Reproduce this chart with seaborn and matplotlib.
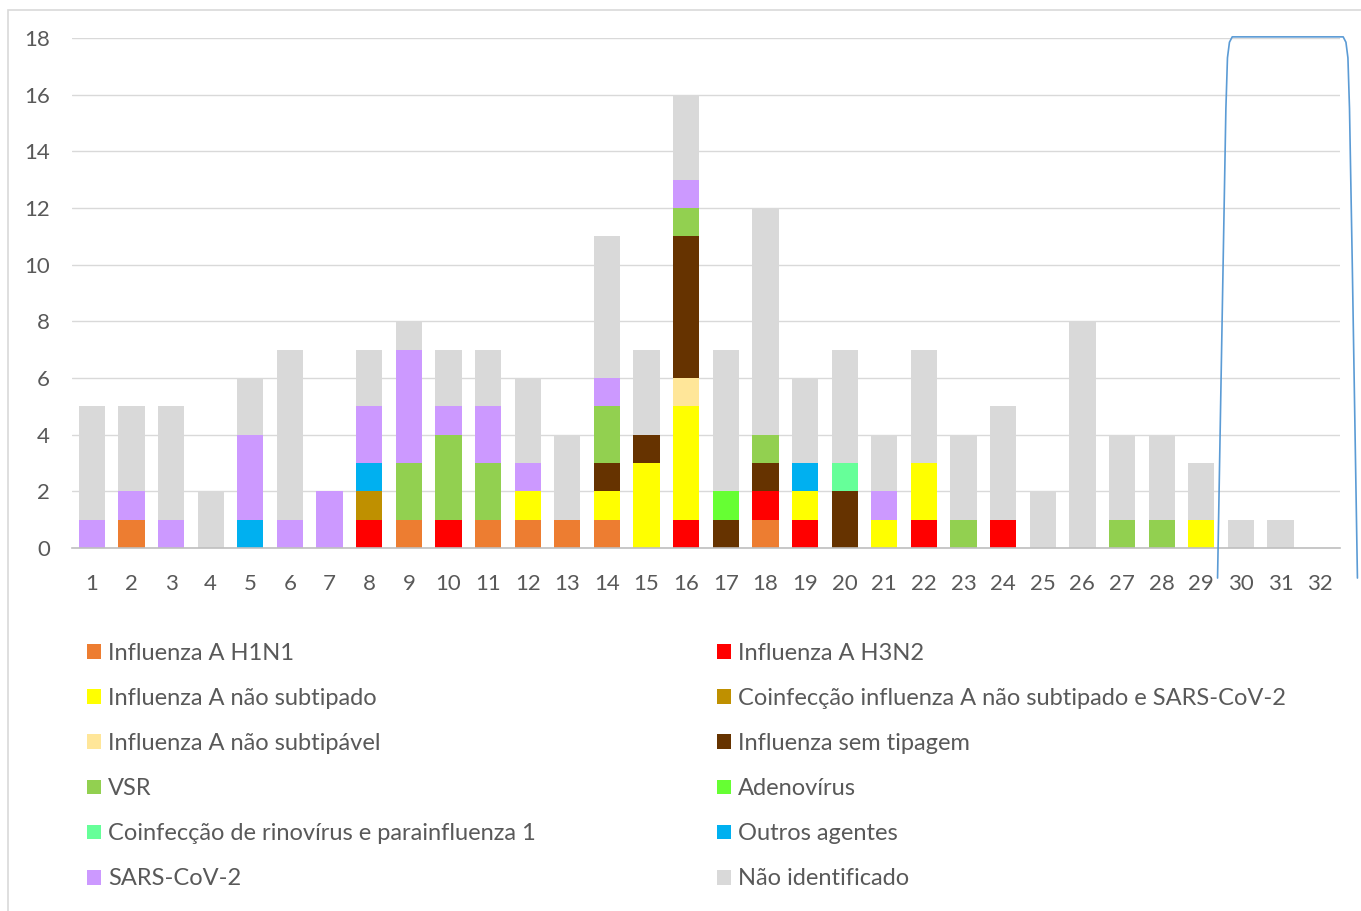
import numpy as np
import pandas as pd
import matplotlib
matplotlib.use("Agg")
import matplotlib.pyplot as plt
from matplotlib.patches import Patch, Rectangle
import seaborn as sns

weeks = list(range(1, 33))

agents = [
    "Influenza A H1N1",
    "Influenza A H3N2",
    "Influenza A não subtipado",
    "Coinfecção influenza A não subtipado e SARS-CoV-2",
    "Influenza A não subtipável",
    "Influenza sem tipagem",
    "VSR",
    "Adenovírus",
    "Coinfecção de rinovírus e parainfluenza 1",
    "Outros agentes",
    "SARS-CoV-2",
    "Não identificado",
]

colors = ["#ED7D31", "#FF0000", "#FFFF00", "#BF9000", "#FFE699", "#663300",
          "#92D050", "#66FF33", "#66FF99", "#00B0F0", "#CC99FF", "#D9D9D9"]

# counts per week (1..32)
h1n1 =        [0,1,0,0,0,0,0,0,1,0,1,1,1,1,0,0,0,1,0,0,0,0,0,0,0,0,0,0,0,0,0,0]
h3n2 =        [0,0,0,0,0,0,0,1,0,1,0,0,0,0,0,1,0,1,1,0,0,1,0,1,0,0,0,0,0,0,0,0]
nao_subtip =  [0,0,0,0,0,0,0,0,0,0,0,1,0,1,3,4,0,0,1,0,1,2,0,0,0,0,0,0,1,0,0,0]
coinf_sars =  [0,0,0,0,0,0,0,1,0,0,0,0,0,0,0,0,0,0,0,0,0,0,0,0,0,0,0,0,0,0,0,0]
nao_subtipav =[0,0,0,0,0,0,0,0,0,0,0,0,0,0,0,1,0,0,0,0,0,0,0,0,0,0,0,0,0,0,0,0]
sem_tipagem = [0,0,0,0,0,0,0,0,0,0,0,0,0,1,1,5,1,1,0,2,0,0,0,0,0,0,0,0,0,0,0,0]
vsr =         [0,0,0,0,0,0,0,0,2,3,2,0,0,2,0,1,0,1,0,0,0,0,1,0,0,0,1,1,0,0,0,0]
adeno =       [0,0,0,0,0,0,0,0,0,0,0,0,0,0,0,0,1,0,0,0,0,0,0,0,0,0,0,0,0,0,0,0]
coinf_rino =  [0,0,0,0,0,0,0,0,0,0,0,0,0,0,0,0,0,0,0,1,0,0,0,0,0,0,0,0,0,0,0,0]
outros =      [0,0,0,0,1,0,0,1,0,0,0,0,0,0,0,0,0,0,1,0,0,0,0,0,0,0,0,0,0,0,0,0]
sars =        [1,1,1,0,3,1,2,2,4,1,2,1,0,1,0,1,0,0,0,0,1,0,0,0,0,0,0,0,0,0,0,0]
nao_ident =   [4,3,4,2,2,6,0,2,1,2,2,3,3,5,3,3,5,8,3,4,2,4,3,4,2,8,3,3,2,1,1,0]

series = [h1n1, h3n2, nao_subtip, coinf_sars, nao_subtipav, sem_tipagem,
          vsr, adeno, coinf_rino, outros, sars, nao_ident]

# blue bracket shape drawn over the right part of the chart
bracket_x = [29.41, 29.55, 29.62, 29.66, 29.71, 29.78, 32.58, 32.65, 32.70, 32.74, 32.81, 32.94]
bracket_y = [-1.06, 10.0, 15.5, 17.3, 17.85, 18.04, 18.04, 17.85, 17.3, 15.5, 10.0, -1.06]

rows = []
for name, vals in zip(agents, series):
    for w, v in zip(weeks, vals):
        rows.append({"week": w, "agent": name, "n": v})
df = pd.DataFrame(rows)

sns.set_theme(style="white")
plt.rcParams["font.family"] = ["Lato", "DejaVu Sans"]
text_color = "#595959"

fig = plt.figure(figsize=(13.61, 9.11), dpi=100)
ax = fig.add_axes([72 / 1361, 1 - 548 / 911, (1340 - 72) / 1361, (548 - 38) / 911])

# seaborn stacks the first hue level on top, so pass the order reversed
sns.histplot(data=df, x="week", weights="n", hue="agent",
             hue_order=agents[::-1], palette=colors[::-1],
             multiple="stack", discrete=True, shrink=0.66,
             alpha=1, linewidth=0, legend=False, ax=ax, zorder=2)

ax.set_xlim(0.5, 32.5)
ax.set_ylim(0, 18)
ax.set_yticks(range(0, 19, 2))
ax.set_xticks(weeks)
ax.set_xticklabels([str(w) for w in weeks])
ax.grid(axis="y", color="#D9D9D9", linewidth=1)
ax.set_axisbelow(True)
ax.set_xlabel("")
ax.set_ylabel("")
for s in ["top", "right", "left"]:
    ax.spines[s].set_visible(False)
ax.spines["bottom"].set_color("#BFBFBF")
ax.spines["bottom"].set_linewidth(1.2)
ax.tick_params(axis="both", length=0, labelsize=16, labelcolor=text_color)
ax.tick_params(axis="y", pad=16)
ax.tick_params(axis="x", pad=19)

ax.plot(bracket_x, bracket_y, color="#5B9BD5", linewidth=1.2, clip_on=False, zorder=5)

# legend: two columns, filled row by row
handles = [Patch(facecolor=c, edgecolor="none", label=a) for a, c in zip(agents, colors)]
leg_kw = dict(frameon=False, fontsize=17, labelcolor=text_color,
              handlelength=0.59, handleheight=0.59, handletextpad=0.3,
              labelspacing=1.02, borderpad=0, borderaxespad=0, loc="upper left")
leg1 = fig.legend(handles=handles[0::2], bbox_to_anchor=(87 / 1361, 1 - 643 / 911), **leg_kw)
leg2 = fig.legend(handles=handles[1::2], bbox_to_anchor=(717 / 1361, 1 - 643 / 911), **leg_kw)

fig.patches.append(Rectangle((8 / 1361, -0.1), 1.2, 1 - 10 / 911 + 0.1,
                             transform=fig.transFigure, fill=False,
                             edgecolor="#D9D9D9", linewidth=1.2))

fig.savefig("out.png", dpi=100)
